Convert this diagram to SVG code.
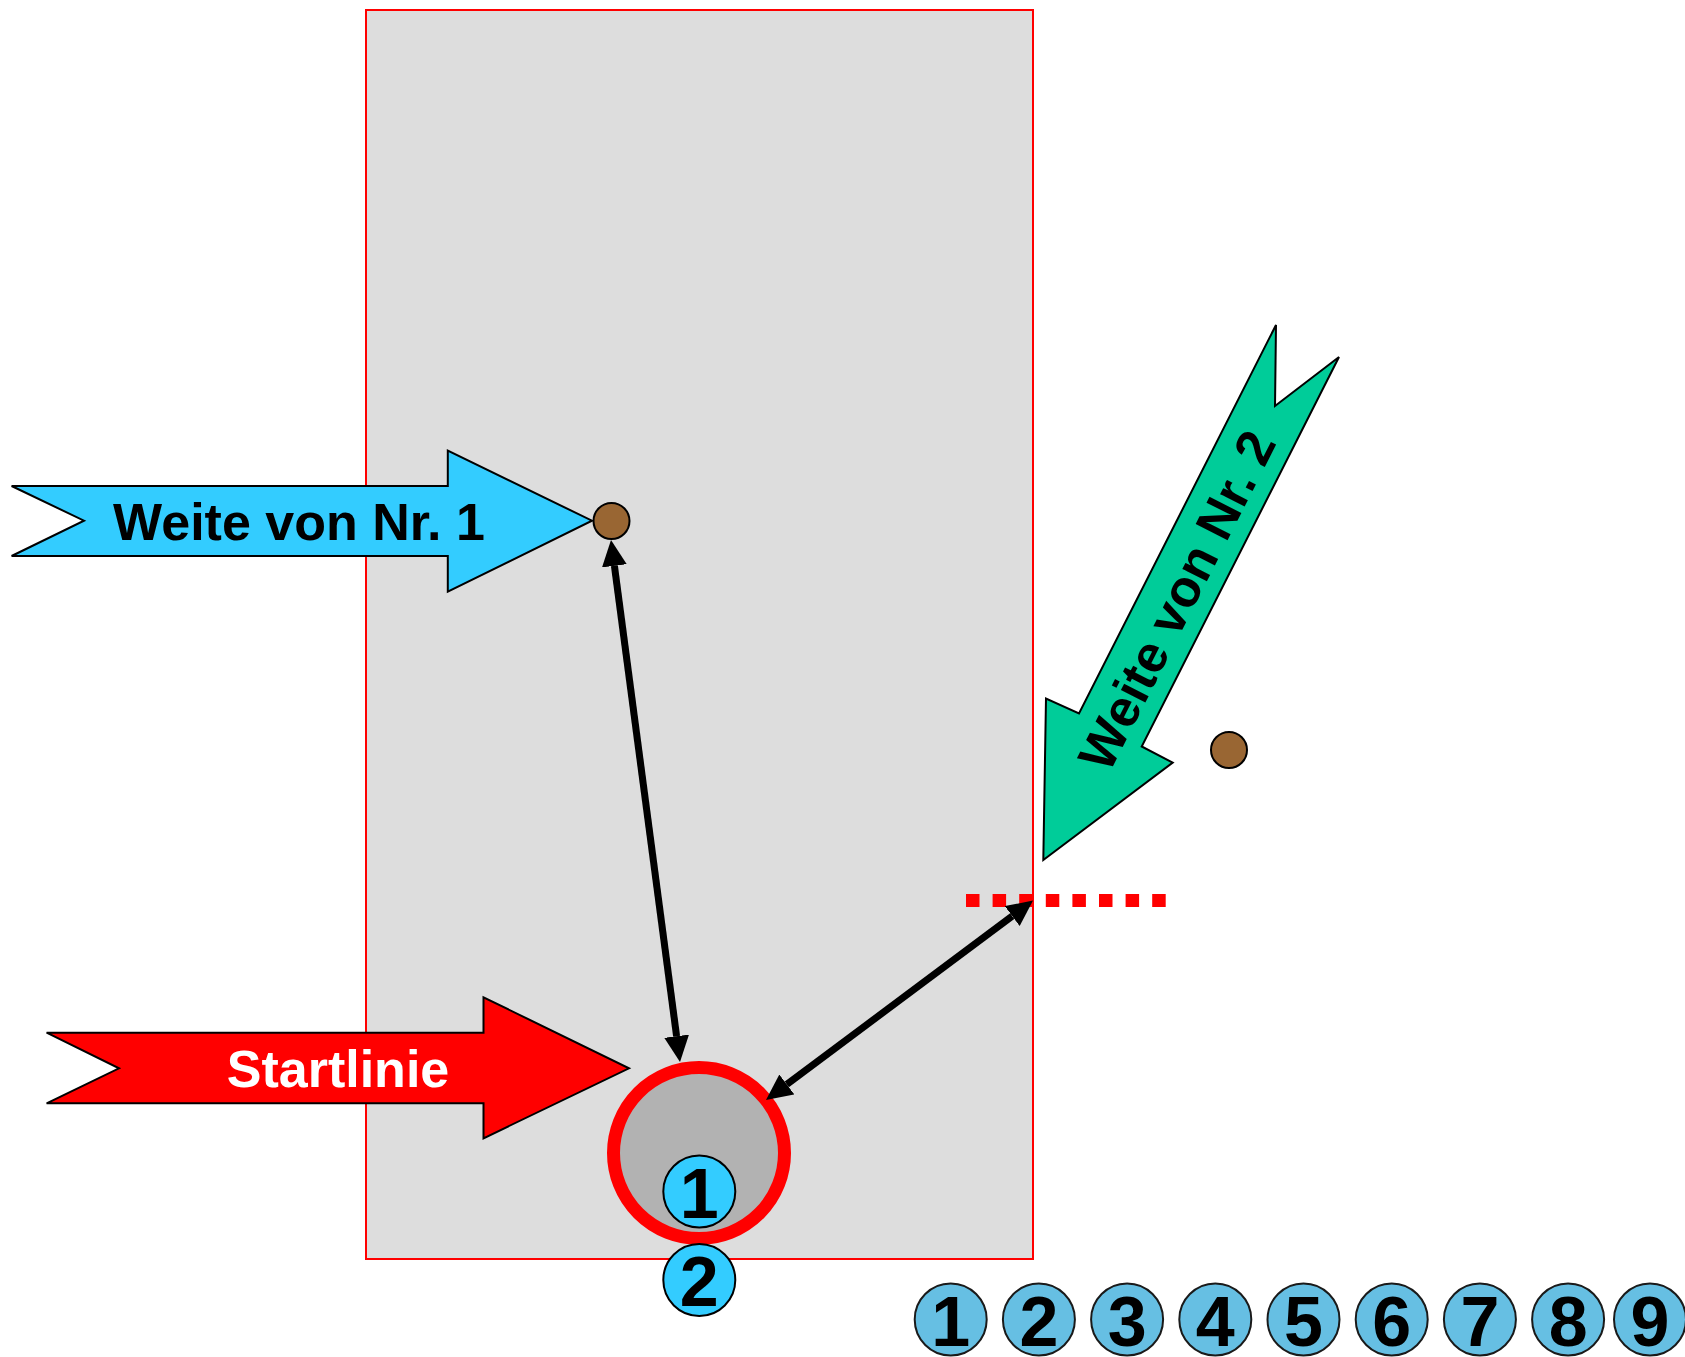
<svg xmlns="http://www.w3.org/2000/svg" width="1685" height="1357" viewBox="0 0 1685 1357">
<style>
.lbl{font-family:"Liberation Sans",Arial,sans-serif;font-weight:bold;font-size:52px;text-anchor:middle}
.num{font-family:"Liberation Sans",Arial,sans-serif;font-weight:bold;font-size:70px;text-anchor:middle;fill:#000}
.shape{stroke:#000;stroke-width:2;stroke-linejoin:miter}
.ball{fill:#996633;stroke:#000;stroke-width:2}
.tok{fill:#33ccff;stroke:#000;stroke-width:2}
.row{fill:#66bfe3;stroke:#1a1a1a;stroke-width:2}
.conn{stroke:#000;stroke-width:7;fill:none;marker-start:url(#ah);marker-end:url(#ah)}
</style>
<defs>
<marker id="ah" markerUnits="userSpaceOnUse" markerWidth="28" markerHeight="26" refX="0" refY="12.5" orient="auto-start-reverse" viewBox="0 0 28 26">
<path d="M0,0 L26,12.5 L0,25 z" fill="#000"/>
</marker>
</defs>
<rect id="field" x="366" y="10" width="667" height="1249" fill="#dddddd" stroke="#ff0000" stroke-width="2"/>
<g id="ring">
<circle cx="699" cy="1153" r="85.5" fill="#b2b2b2" stroke="#ff0000" stroke-width="13"/>
</g>
<g id="dotted-line">
<line x1="966" y1="900.5" x2="1166" y2="900.5" stroke="#ff0000" stroke-width="13" stroke-dasharray="13.5 13.1"/>
</g>
<g id="arrow-weite1">
<polygon class="shape" fill="#33ccff" points="11.6,486 447.8,486 447.8,450.7 592,520.7 447.8,591.7 447.8,556 11.6,556 84,520.7"/>
<text class="lbl" x="299" y="540" fill="#000">Weite von Nr. 1</text>
</g>
<g id="arrow-start">
<polygon class="shape" fill="#ff0000" points="46.6,1032.7 483.5,1032.7 483.5,997.3 629,1068.3 483.5,1138.3 483.5,1103.3 46.6,1103.3 119,1068.3"/>
<text class="lbl" x="338" y="1087" fill="#ffffff">Startlinie</text>
</g>
<g id="arrow-weite2">
<polygon class="shape" fill="#00cc99" points="1276,325 1275,406 1339,357 1141.7,746.5 1172.7,762.6 1043.3,860 1046,698.5 1079,713.5"/>
<text class="lbl" transform="translate(1176,600) rotate(-63.1)" x="0" y="19" fill="#000">Weite von Nr. 2</text>
</g>
<g id="ball-1"><circle class="ball" cx="611.5" cy="521" r="18"/></g>
<g id="ball-2"><circle class="ball" cx="1229" cy="750" r="18"/></g>
<g id="connectors">
<line class="conn" x1="614.4" y1="565.8" x2="676.6" y2="1036.2"/>
<line class="conn" x1="1012.2" y1="916.1" x2="786.8" y2="1084.4"/>
</g>
<g id="token-1"><circle class="tok" cx="699.3" cy="1191.5" r="36"/><text class="num" x="699.3" y="1217.5">1</text></g>
<g id="token-2"><circle class="tok" cx="699.3" cy="1280" r="36"/><text class="num" x="699.3" y="1306">2</text></g>
<g id="row-1"><circle class="row" cx="950.7" cy="1319.5" r="36"/><text class="num" x="950.7" y="1346">1</text></g>
<g id="row-2"><circle class="row" cx="1038.9" cy="1319.5" r="36"/><text class="num" x="1038.9" y="1346">2</text></g>
<g id="row-3"><circle class="row" cx="1127.1" cy="1319.5" r="36"/><text class="num" x="1127.1" y="1346">3</text></g>
<g id="row-4"><circle class="row" cx="1215.3" cy="1319.5" r="36"/><text class="num" x="1215.3" y="1346">4</text></g>
<g id="row-5"><circle class="row" cx="1303.5" cy="1319.5" r="36"/><text class="num" x="1303.5" y="1346">5</text></g>
<g id="row-6"><circle class="row" cx="1391.7" cy="1319.5" r="36"/><text class="num" x="1391.7" y="1346">6</text></g>
<g id="row-7"><circle class="row" cx="1479.9" cy="1319.5" r="36"/><text class="num" x="1479.9" y="1346">7</text></g>
<g id="row-8"><circle class="row" cx="1568.1" cy="1319.5" r="36"/><text class="num" x="1568.1" y="1346">8</text></g>
<g id="row-9"><circle class="row" cx="1650" cy="1319.5" r="36"/><text class="num" x="1650" y="1346">9</text></g>
</svg>
